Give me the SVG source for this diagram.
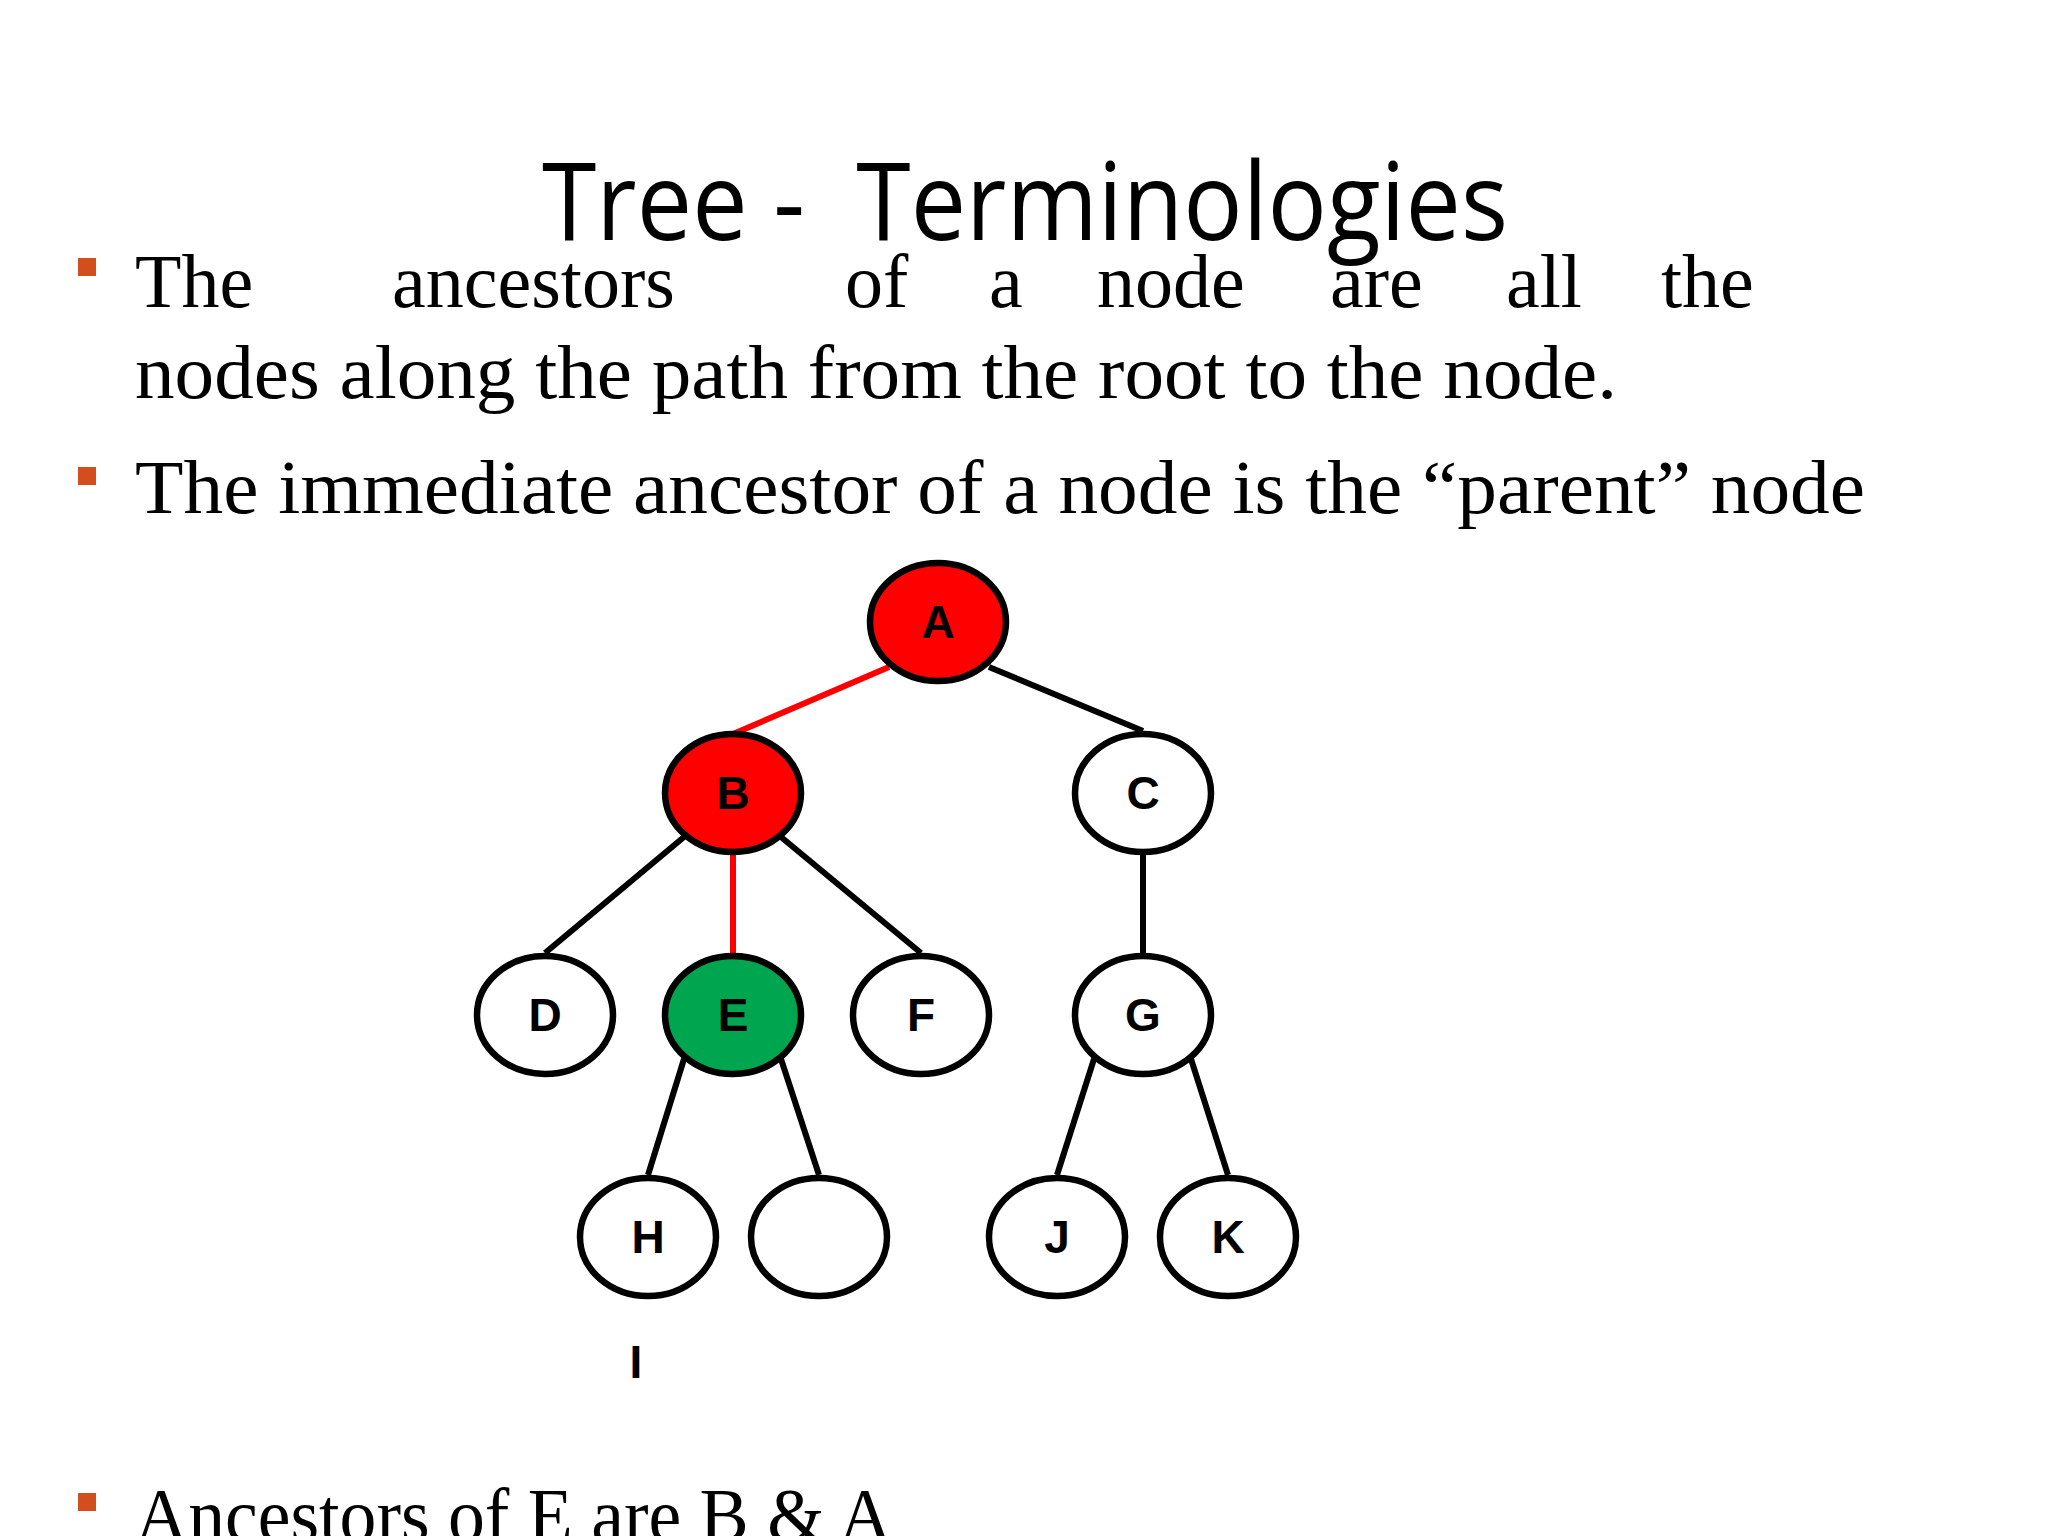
<svg xmlns="http://www.w3.org/2000/svg" width="2048" height="1536" viewBox="0 0 2048 1536">
<style>
.t{font-family:"Liberation Serif",serif;font-size:76px;fill:#000}
.b{fill:#d24e1c}
.n ellipse{stroke:#000;stroke-width:6.5;fill:#fff}
.n text{font-family:"Liberation Sans",Arial,sans-serif;font-weight:bold;font-size:46px;text-anchor:middle;fill:#000}
.e line{stroke:#000;stroke-width:6}
.e line.r{stroke:#f00}
</style>
<rect width="2048" height="1536" fill="#fff"/>
<text x="1025" y="240" text-anchor="middle" font-family="'Open Sans',sans-serif" font-size="108" textLength="966" lengthAdjust="spacingAndGlyphs" xml:space="preserve">Tree -  Terminologies</text>
<rect class="b" x="78" y="258" width="18" height="18"/>
<text class="t" y="307"><tspan x="135">The</tspan><tspan x="392">ancestors</tspan><tspan x="845">of</tspan><tspan x="989">a</tspan><tspan x="1097">node</tspan><tspan x="1330">are</tspan><tspan x="1506">all</tspan><tspan x="1661">the</tspan></text>
<text class="t" x="135" y="398" textLength="1482" lengthAdjust="spacingAndGlyphs">nodes along the path from the root to the node.</text>
<rect class="b" x="78" y="467" width="18" height="18"/>
<text class="t" x="135" y="513" textLength="1730" lengthAdjust="spacingAndGlyphs">The immediate ancestor of a node is the “parent” node</text>
<rect class="b" x="78" y="1493" width="18" height="18"/>
<text class="t" x="135" y="1541" textLength="757" lengthAdjust="spacingAndGlyphs">Ancestors of E are B &amp; A</text>
<g class="e" id="connectors">
<line class="r" x1="889" y1="667" x2="733" y2="734"/>
<line x1="989" y1="667" x2="1143" y2="731"/>
<line x1="684" y1="837" x2="545" y2="953"/>
<line class="r" x1="733" y1="854" x2="733" y2="953"/>
<line x1="781" y1="837" x2="921" y2="953"/>
<line x1="1143" y1="854" x2="1143" y2="953"/>
<line x1="684" y1="1059" x2="648" y2="1175"/>
<line x1="781" y1="1059" x2="819" y2="1175"/>
<line x1="1094" y1="1059" x2="1057" y2="1175"/>
<line x1="1191" y1="1059" x2="1228" y2="1175"/>
</g>
<g class="n" id="A"><ellipse cx="938" cy="622" rx="68" ry="59" style="fill:#f00"/><text x="938" y="638">A</text></g>
<g class="n" id="B"><ellipse cx="733" cy="793" rx="68" ry="59" style="fill:#f00"/><text x="733" y="809">B</text></g>
<g class="n" id="C"><ellipse cx="1143" cy="793" rx="68" ry="59"/><text x="1143" y="809">C</text></g>
<g class="n" id="D"><ellipse cx="545" cy="1015" rx="68" ry="59"/><text x="545" y="1031">D</text></g>
<g class="n" id="E"><ellipse cx="733" cy="1015" rx="68" ry="59" style="fill:#00a550"/><text x="733" y="1031">E</text></g>
<g class="n" id="F"><ellipse cx="921" cy="1015" rx="68" ry="59"/><text x="921" y="1031">F</text></g>
<g class="n" id="G"><ellipse cx="1143" cy="1015" rx="68" ry="59"/><text x="1143" y="1031">G</text></g>
<g class="n" id="H"><ellipse cx="648" cy="1237" rx="68" ry="59"/><text x="648" y="1253">H</text></g>
<g class="n" id="I"><ellipse cx="819" cy="1237" rx="68" ry="59"/><text x="636" y="1378">I</text></g>
<g class="n" id="J"><ellipse cx="1057" cy="1237" rx="68" ry="59"/><text x="1057" y="1253">J</text></g>
<g class="n" id="K"><ellipse cx="1228" cy="1237" rx="68" ry="59"/><text x="1228" y="1253">K</text></g>
</svg>
